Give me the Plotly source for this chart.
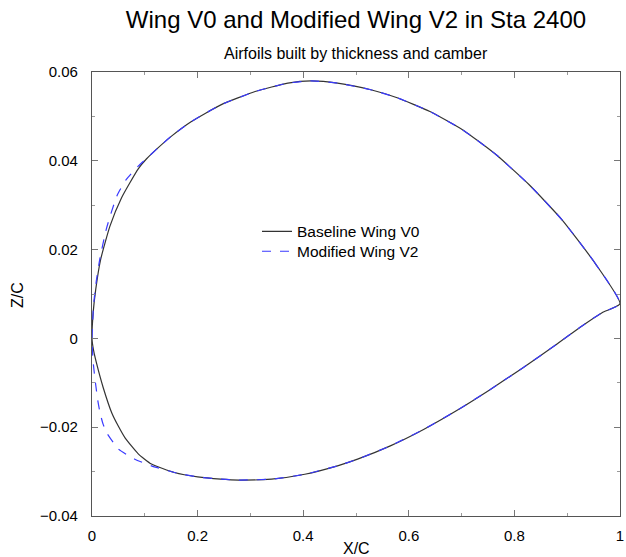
import plotly.graph_objects as go

# Baseline Wing V0: upper surface (TE -> LE) then lower surface (LE -> TE)
base_x = [1.0, 0.953, 0.891, 0.828, 0.765, 0.703, 0.640, 0.578, 0.528, 0.465, 0.415, 0.371,
          0.309, 0.244, 0.1876, 0.15, 0.125, 0.103, 0.0876, 0.056, 0.034, 0.016, 0.007, 0.0025, 0.0,
          0.003, 0.0088, 0.021, 0.0375, 0.05, 0.0626, 0.0876, 0.1126, 0.156, 0.2, 0.244,
          0.278, 0.34, 0.403, 0.465, 0.503, 0.565, 0.628, 0.69, 0.753, 0.815, 0.878, 0.928, 0.966, 1.0]
base_z = [0.0078, 0.0169, 0.0266, 0.0346, 0.0414, 0.0469, 0.0511, 0.0542, 0.0560, 0.0575, 0.0580, 0.0575,
          0.0556, 0.0526, 0.0488, 0.0455, 0.0429, 0.0404, 0.0382, 0.0317, 0.0253, 0.0176, 0.0110, 0.0062, 0.0,
          -0.0027, -0.0057, -0.0110, -0.0168, -0.0198, -0.0224, -0.0260, -0.0283, -0.0302, -0.0312, -0.0317,
          -0.0319, -0.0317, -0.0306, -0.0287, -0.0272, -0.0242, -0.0205, -0.0163, -0.0116, -0.0067, -0.0015, 0.0028, 0.0058, 0.0078]

# Modified Wing V2
mod_x = [1.0, 0.953, 0.891, 0.828, 0.765, 0.703, 0.640, 0.578, 0.528, 0.465, 0.415, 0.371,
         0.309, 0.244, 0.1876, 0.15, 0.125, 0.103, 0.0876, 0.065, 0.0475, 0.0275, 0.015, 0.008, 0.003, 0.0,
         0.001, 0.0025, 0.006, 0.011, 0.0157, 0.021, 0.028, 0.050, 0.081, 0.1126, 0.156, 0.2, 0.244,
         0.278, 0.34, 0.403, 0.465, 0.503, 0.565, 0.628, 0.69, 0.753, 0.815, 0.878, 0.928, 0.966, 1.0]
mod_z = [0.0078, 0.0169, 0.0266, 0.0346, 0.0414, 0.0469, 0.0511, 0.0542, 0.0560, 0.0575, 0.0580, 0.0575,
         0.0556, 0.0526, 0.0488, 0.0455, 0.0429, 0.0405, 0.0388, 0.0358, 0.0322, 0.0248, 0.0180, 0.0128, 0.0075, 0.0,
         -0.0030, -0.0057, -0.0095, -0.0140, -0.0170, -0.0193, -0.0213, -0.0249, -0.0272, -0.0287, -0.0302, -0.0312, -0.0317,
         -0.0319, -0.0317, -0.0306, -0.0287, -0.0272, -0.0242, -0.0205, -0.0163, -0.0116, -0.0067, -0.0015, 0.0028, 0.0058, 0.0078]

FONT = "Liberation Sans, Arial, Helvetica, sans-serif"

fig = go.Figure()
fig.add_trace(go.Scatter(x=base_x, y=base_z, mode="lines", name="Baseline Wing V0", legend="legend",
                         line=dict(color="#333333", width=1.2, shape="spline", smoothing=0.5)))
fig.add_trace(go.Scatter(x=mod_x, y=mod_z, mode="lines", name="Modified Wing V2", legend="legend2",
                         line=dict(color="#3a3aff", width=1.2, dash="dash", shape="spline", smoothing=0.5)))

axis_common = dict(showline=True, linecolor="#555555", linewidth=1.2, mirror="ticks",
                   ticks="inside", ticklen=6, tickcolor="#777777", showgrid=False, zeroline=False,
                   ticklabeloverflow="allow",
                   tickfont=dict(size=15, color="black", family=FONT))

fig.update_xaxes(range=[0, 1], dtick=0.2, tick0=0,
                 minor=dict(ticks="inside", ticklen=3, dtick=0.1, tickcolor="#999999", showgrid=False),
                 ticklabelstandoff=6, **axis_common)
fig.update_yaxes(range=[-0.04, 0.06], dtick=0.02, tick0=0,
                 minor=dict(ticks="inside", ticklen=3, dtick=0.01, tickcolor="#999999", showgrid=False),
                 ticklabelstandoff=10, **axis_common)

leg_common = dict(xanchor="left", yanchor="top", bgcolor="rgba(0,0,0,0)",
                  font=dict(size=15.5, family=FONT, color="black"))

W, H = 626, 557
L, R, T, B = 92, 6, 72, 41
PH = H - T - B  # plot height (444)
PW = W - L - R

fig.update_layout(
    width=W, height=H,
    margin=dict(l=L, r=R, t=T, b=B, autoexpand=False),
    plot_bgcolor="white", paper_bgcolor="white",
    font=dict(family=FONT, color="black"),
    title=dict(text="Wing V0 and Modified Wing V2 in Sta 2400", x=0.5, xref="paper",
               y=1 - 20 / H, yref="container", yanchor="middle",
               font=dict(size=24, family=FONT, color="black")),
    annotations=[
        dict(text="Airfoils built by thickness and camber", xref="paper", yref="paper",
             x=0.5, y=(H - B - 53) / PH, yanchor="middle", showarrow=False,
             font=dict(size=16, family=FONT, color="black")),
        dict(text="X/C", xref="paper", yref="paper", x=0.5, y=(H - B - 548) / PH,
             yanchor="middle", showarrow=False, font=dict(size=16, family=FONT, color="black")),
        dict(text="Z/C", xref="paper", yref="paper", x=(17 - L) / PW, y=(H - B - 295) / PH,
             xanchor="center", yanchor="middle", textangle=-90, showarrow=False,
             font=dict(size=16, family=FONT, color="black")),
    ],
    legend=dict(x=(257 - L) / PW, y=0.6786, **leg_common),
    legend2=dict(x=(257 - L) / PW, y=0.6336, **leg_common),
    showlegend=True,
)

fig.write_html("out.html",
               config={"displayModeBar": False},
               post_script="document.body.style.margin='0';"
                           "document.documentElement.style.overflow='hidden';")
